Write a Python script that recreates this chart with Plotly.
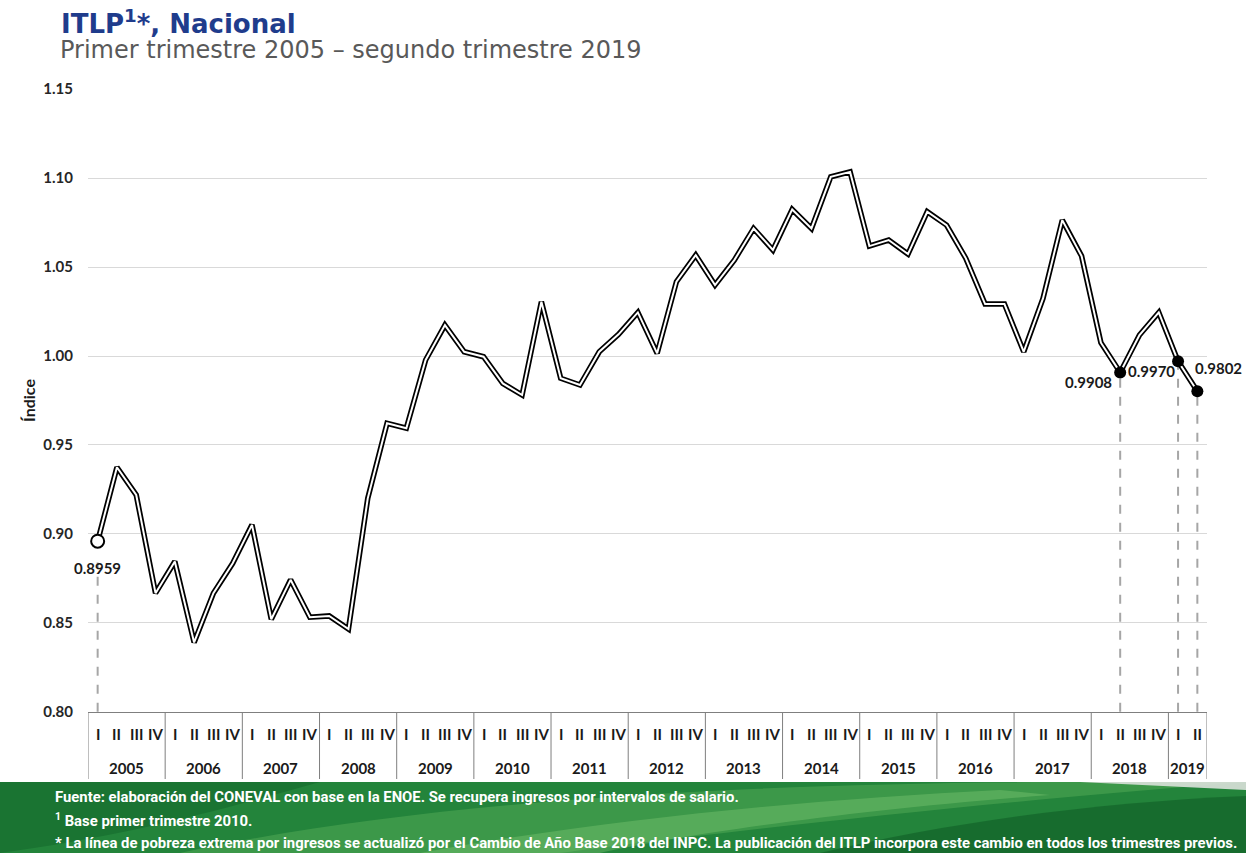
import plotly.graph_objects as go

# ---------------- data ----------------
years = ["2005", "2006", "2007", "2008", "2009", "2010", "2011", "2012",
         "2013", "2014", "2015", "2016", "2017", "2018", "2019"]
quarters_per_year = [4, 4, 4, 4, 4, 4, 4, 4, 4, 4, 4, 4, 4, 4, 2]
quarter_names = ["I", "II", "III", "IV"]

itlp = [0.8959, 0.9375, 0.9219, 0.8667, 0.8845, 0.8390, 0.8667, 0.8835,
        0.9051, 0.8520, 0.8742, 0.8532, 0.8539, 0.8465, 0.9200, 0.9622,
        0.9594, 0.9978, 1.0174, 1.0024, 0.9996, 0.9846, 0.9781, 1.0305,
        0.9875, 0.9837, 1.0024, 1.0122, 1.0245, 1.0015, 1.0418, 1.0567,
        1.0399, 1.0539, 1.0717, 1.0596, 1.0824, 1.0717, 1.1007, 1.1035,
        1.0618, 1.0652, 1.0573, 1.0811, 1.0736, 1.0549, 1.0292, 1.0292,
        1.0024, 1.0324, 1.0764, 1.0562, 1.0075, 0.9908, 1.0118, 1.0245,
        0.9970, 0.9802]

highlight_idx = [0, 53, 56, 57]
highlight_text = ["0.8959", "0.9908", "0.9970", "0.9802"]

y_ticks = [0.80, 0.85, 0.90, 0.95, 1.00, 1.05, 1.10, 1.15]

title_text = "<b>ITLP<sup>1</sup>*, Nacional</b>"
subtitle_text = "Primer trimestre 2005 \u2013 segundo trimestre 2019"
footer_lines = [
    "Fuente: elaboración del CONEVAL con base en la ENOE. Se recupera ingresos por intervalos de salario.",
    "<sup>1</sup> Base primer trimestre 2010.",
    "* La línea de pobreza extrema por ingresos se actualizó por el Cambio de Año Base 2018 del INPC. "
    "La publicación del ITLP incorpora este cambio en todos los trimestres previos.",
]

# ---------------- layout geometry ----------------
W, H = 1246, 853
ML, MR, MT, MB = 88, 39, 89, 141
PW, PH = W - ML - MR, H - MT - MB


def px_x(px):
    return (px - ML) / PW


def px_y(py):
    return (H - MB - py) / PH


xs = list(range(len(itlp)))
quarter_labels = []
for y, n in zip(years, quarters_per_year):
    for q in range(n):
        quarter_labels.append(quarter_names[q])

LBL_FONT = "Lato"
GRAY_LINE = "#7f7f7f"
TXT = "#1a1a1a"

fig = go.Figure()

# dashed drop lines
for k, i in enumerate(highlight_idx):
    top = itlp[i] - (0.012 if k == 0 else 0.0)
    fig.add_trace(go.Scatter(
        x=[i, i], y=[y_ticks[0], top], mode="lines",
        line=dict(color="#a6a6a6", width=2, dash="dash"),
        hoverinfo="skip", showlegend=False))

# double line: black outline + white core
fig.add_trace(go.Scatter(x=xs, y=itlp, mode="lines",
                         line=dict(color="black", width=5.5),
                         showlegend=False, hoverinfo="skip"))
fig.add_trace(go.Scatter(x=xs, y=itlp, mode="lines",
                         line=dict(color="white", width=2),
                         showlegend=False,
                         text=quarter_labels,
                         hovertemplate="%{y:.4f}<extra></extra>"))

# highlighted markers
fig.add_trace(go.Scatter(
    x=[highlight_idx[0]], y=[itlp[highlight_idx[0]]], mode="markers",
    marker=dict(size=13, color="white", line=dict(color="black", width=2)),
    showlegend=False, hoverinfo="skip"))
fig.add_trace(go.Scatter(
    x=highlight_idx[1:], y=[itlp[i] for i in highlight_idx[1:]], mode="markers",
    marker=dict(size=12, color="black"),
    showlegend=False, hoverinfo="skip"))

annotations = []
label_pos = [
    dict(xanchor="center", yanchor="middle", xshift=0, yshift=-27),
    dict(xanchor="right", yanchor="middle", xshift=-6, yshift=-10),
    dict(xanchor="right", yanchor="middle", xshift=-1, yshift=-10),
    dict(xanchor="left", yanchor="middle", xshift=-4, yshift=23),
]
for i, t, pos in zip(highlight_idx, highlight_text, label_pos):
    annotations.append(dict(
        x=i, y=itlp[i], xref="x", yref="y", text=t,
        showarrow=False, font=dict(family=LBL_FONT, size=15, color=TXT, weight="bold"),
        **pos))

# quarter labels
for i, q in enumerate(quarter_labels):
    annotations.append(dict(
        x=i, y=0, xref="x", yref="paper", text=q,
        showarrow=False, yanchor="middle", yshift=-22,
        font=dict(family=LBL_FONT, size=15, color=TXT, weight="bold")))

# year labels and dividers
shapes = []
start = 0
for y, n in zip(years, quarters_per_year):
    annotations.append(dict(
        x=start + (n - 1) / 2, y=0, xref="x", yref="paper",
        text=y, showarrow=False, yanchor="middle", yshift=-56,
        font=dict(family=LBL_FONT, size=15, color=TXT, weight="bold")))
    shapes.append(dict(type="line", xref="x", yref="paper",
                       x0=start - 0.5, x1=start - 0.5, y0=0, y1=px_y(779),
                       line=dict(color=GRAY_LINE, width=1)))
    start += n
shapes.append(dict(type="line", xref="x", yref="paper",
                   x0=start - 0.5, x1=start - 0.5, y0=0, y1=px_y(779),
                   line=dict(color=GRAY_LINE, width=1)))

# footer band
fy0, fy1 = px_y(853), px_y(782)
shapes.append(dict(type="rect", xref="paper", yref="paper", layer="below",
                   x0=px_x(0), x1=px_x(W), y0=fy0, y1=fy1,
                   line=dict(width=0), fillcolor="#23843b"))
# lighter central swoosh
shapes.append(dict(type="path", xref="paper", yref="paper", layer="below",
                   path="M %f,%f C %f,%f %f,%f %f,%f L %f,%f C %f,%f %f,%f %f,%f Z" % (
                       px_x(180), px_y(853), px_x(400), px_y(805), px_x(700), px_y(784), px_x(1050), px_y(782),
                       px_x(1246), px_y(782), px_x(950), px_y(805), px_x(700), px_y(835), px_x(560), px_y(853)),
                   line=dict(width=0), fillcolor="rgba(110,190,100,0.35)"))
shapes.append(dict(type="path", xref="paper", yref="paper", layer="below",
                   path="M %f,%f C %f,%f %f,%f %f,%f L %f,%f C %f,%f %f,%f %f,%f Z" % (
                       px_x(420), px_y(853), px_x(600), px_y(820), px_x(800), px_y(800), px_x(1000), px_y(790),
                       px_x(1050), px_y(795), px_x(850), px_y(810), px_x(680), px_y(835), px_x(600), px_y(853)),
                   line=dict(width=0), fillcolor="rgba(150,215,130,0.30)"))
# darker right region
shapes.append(dict(type="path", xref="paper", yref="paper", layer="below",
                   path="M %f,%f C %f,%f %f,%f %f,%f L %f,%f L %f,%f Z" % (
                       px_x(820), px_y(853), px_x(950), px_y(822), px_x(1100), px_y(802), px_x(1246), px_y(796),
                       px_x(1246), px_y(853), px_x(820), px_y(853)),
                   line=dict(width=0), fillcolor="rgba(5,70,25,0.38)"))
# darker left region
shapes.append(dict(type="path", xref="paper", yref="paper", layer="below",
                   path="M %f,%f L %f,%f C %f,%f %f,%f %f,%f Z" % (
                       px_x(0), px_y(782), px_x(320), px_y(782), px_x(220), px_y(810), px_x(130), px_y(835), px_x(0), px_y(853)),
                   line=dict(width=0), fillcolor="rgba(5,80,30,0.30)"))
# light sliver at top right
shapes.append(dict(type="path", xref="paper", yref="paper", layer="below",
                   path="M %f,%f L %f,%f L %f,%f Z" % (
                       px_x(1080), px_y(782), px_x(1246), px_y(782), px_x(1246), px_y(790)),
                   line=dict(width=0), fillcolor="rgba(220,225,220,0.9)"))

for t, py in zip(footer_lines, [797, 820, 843]):
    annotations.append(dict(
        x=px_x(53), y=px_y(py), xref="paper", yref="paper", text=t,
        showarrow=False, xanchor="left", yanchor="middle",
        font=dict(family="Liberation Sans Narrow, Roboto, sans-serif", size=14.85,
                  color="white", weight="bold")))

# titles
annotations.append(dict(x=px_x(59), y=px_y(22), xref="paper", yref="paper",
                        text=title_text, showarrow=False, xanchor="left", yanchor="middle",
                        font=dict(family="DejaVu Sans", size=26, color="#1f3c8c")))
annotations.append(dict(x=px_x(58), y=px_y(50), xref="paper", yref="paper",
                        text=subtitle_text, showarrow=False, xanchor="left", yanchor="middle",
                        font=dict(family="DejaVu Sans", size=24, color="#595959")))

fig.update_layout(
    width=W, height=H,
    margin=dict(l=ML, r=MR, t=MT, b=MB, pad=0),
    paper_bgcolor="white", plot_bgcolor="white",
    showlegend=False,
    annotations=annotations, shapes=shapes,
    xaxis=dict(range=[-0.5, len(itlp) - 0.5], showgrid=False, zeroline=False,
               showticklabels=False, ticks="", showline=True,
               linecolor=GRAY_LINE, linewidth=1, fixedrange=True),
    yaxis=dict(range=[0.7999, 1.1501], tickvals=y_ticks, tickformat=".2f",
               showgrid=True, gridcolor="#d9d9d9", gridwidth=1, zeroline=False,
               ticks="", ticklabelstandoff=14, showline=False,
               tickfont=dict(family=LBL_FONT, size=15, color="#262626", weight="bold"),
               title=dict(text="Índice", standoff=3,
                          font=dict(family=LBL_FONT, size=16, color=TXT, weight="bold"))),
)

fig.write_html(
    "out.html",
    config={"displayModeBar": False},
    post_script="document.body.style.margin='0';document.body.style.padding='0';"
                "document.body.style.overflow='hidden';",
)
